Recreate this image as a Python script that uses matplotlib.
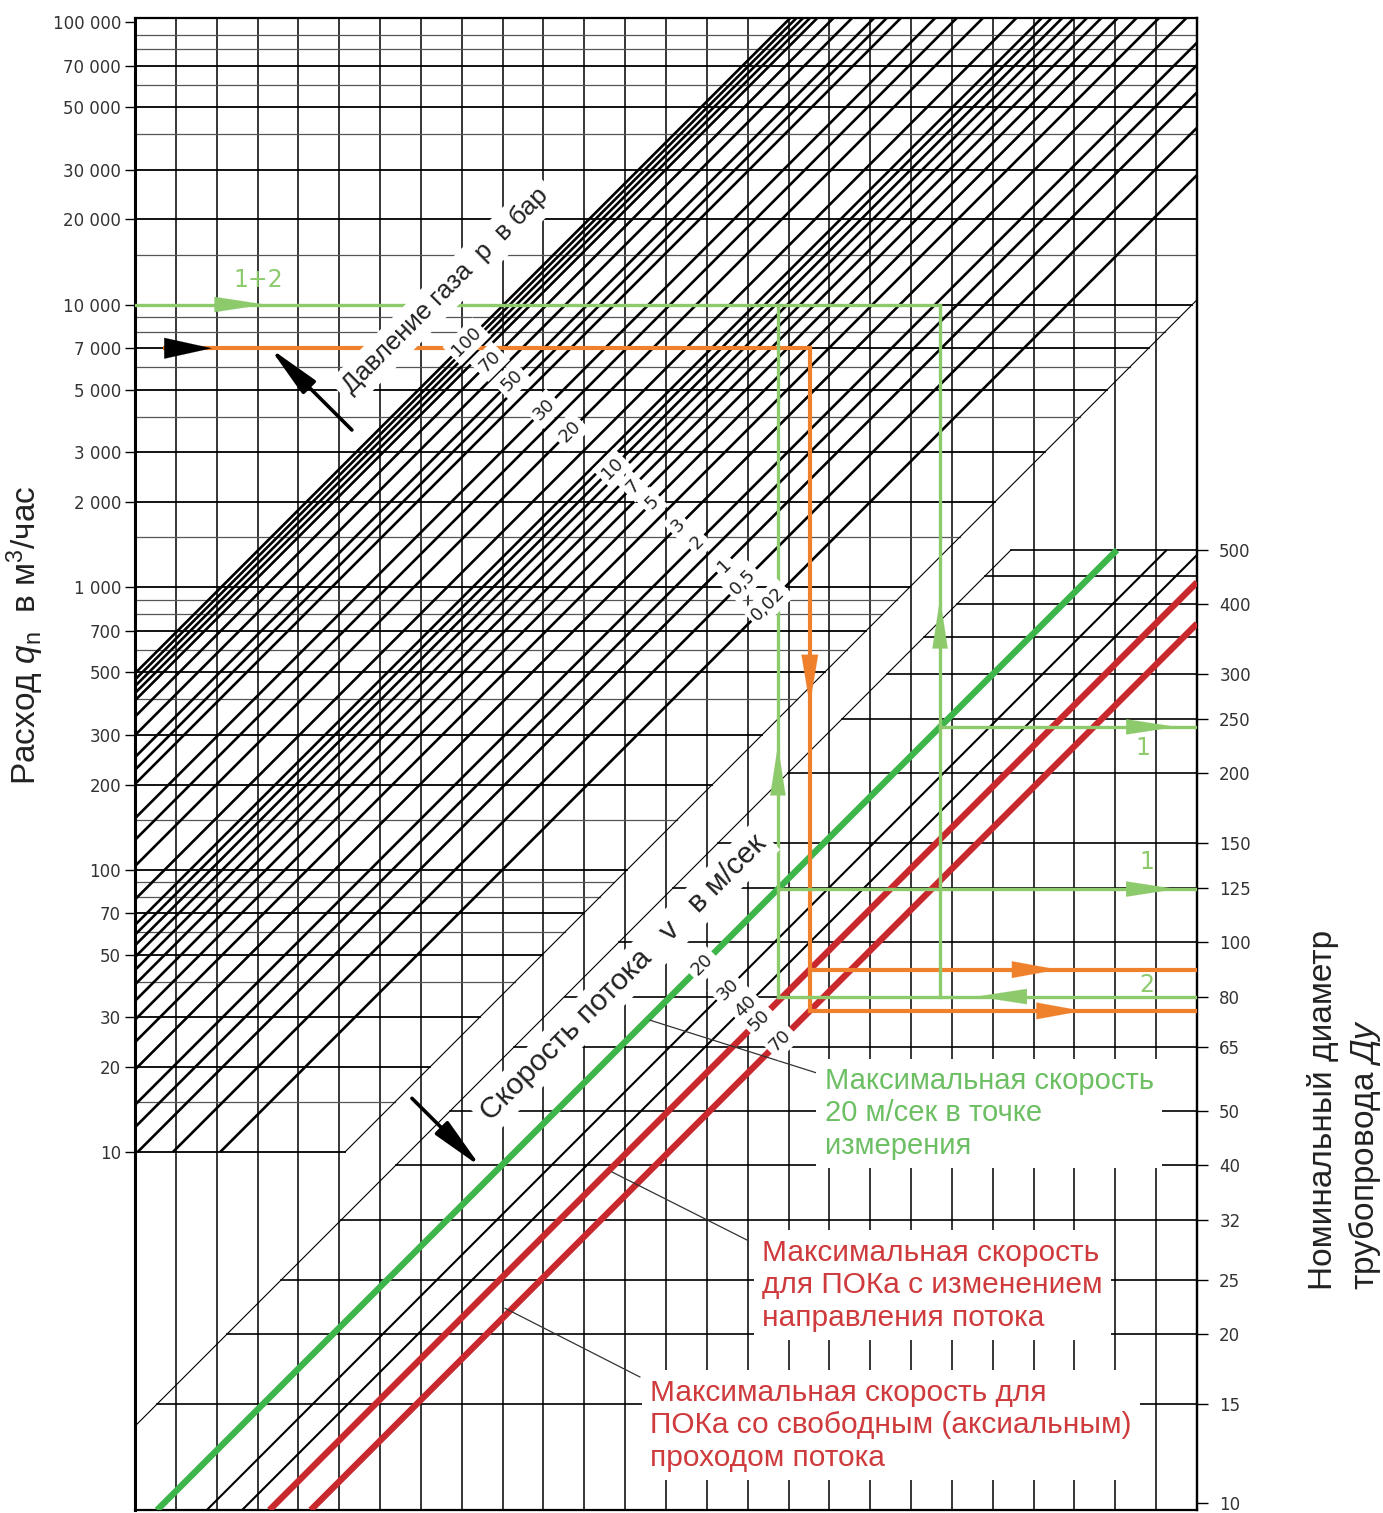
import numpy as np
import matplotlib.pyplot as plt
from matplotlib.ticker import NullLocator

plt.rcParams['font.family'] = ['Liberation Sans', 'DejaVu Sans']
plt.rcParams['mathtext.fontset'] = 'custom'
plt.rcParams['mathtext.rm'] = 'Liberation Sans'
plt.rcParams['mathtext.it'] = 'Liberation Sans:italic'

# chart geometry
n_cols = 26              # vertical grid columns
dec_per_col = 0.1446     # all diagonals rise this many decades of q per column
q_min, q_max = 0.541, 103300
dn_a, dn_b = -2.229, 1.986   # right scale: log q = a + b*log Dn

# left axis (flow qn)
q_ticks = [10, 20, 30, 50, 70, 100, 200, 300, 500, 700, 1000, 2000, 3000,
           5000, 7000, 10000, 20000, 30000, 50000, 70000, 100000]
q_tick_labels = ['10', '20', '30', '50', '70', '100', '200', '300', '500', '700',
                 '1 000', '2 000', '3 000', '5 000', '7 000', '10 000', '20 000',
                 '30 000', '50 000', '70 000', '100 000']
q_grid_minor = [15, 40, 60, 80, 90, 150, 400, 600, 800, 900, 1500, 4000, 6000,
                8000, 9000, 15000, 40000, 60000, 80000, 90000]

# right axis (nominal diameter)
dn_ticks = [10, 15, 20, 25, 32, 40, 50, 65, 80, 100, 125, 150, 200, 250, 300, 400, 500]
dn_grid_extra = [350, 450]

# gas pressure lines (bar)
p_bar = [100, 95, 90, 85, 80, 70, 60, 50, 45, 40, 30, 25, 20, 15, 12, 11, 10, 9, 8,
         7, 6, 5, 4, 3, 2, 1.5, 1, 0.5, 0.02]
p_labeled = [100, 70, 50, 30, 20, 10, 7, 5, 3, 2, 1, 0.5, 0.02]
p_label_text = ['100', '70', '50', '30', '20', '10', '7', '5', '3', '2', '1', '0,5', '0,02']
p_offset = 0.69                         # log q at column 0 for p+1 = 1
p_label_path = [(8.08, 3.874), (15.54, 2.936)]   # (col, log q) where labels sit

# flow velocity lines (m/s)
v_ms = [20, 30, 40, 50, 70]
v_offset = 0.956
v_colors = ['#3db54b', 'black', 'black', '#c9282d', '#c9282d']
v_widths = [4.6, 1.5, 1.5, 4.6, 4.6]
v_label_path = [(13.83, 1.673), (15.67, 1.414)]

# thin border diagonals (log q at column 0)
upper_edge_b = 0.257
lower_edge_b = 0.03

# worked examples
orange_qn, orange_start_col, orange_turn_col = 7000, 0.73, 16.52
green_qn, green_turn_cols, green_dn = 10000, [15.74, 19.71], 80

orange = '#f0812c'
lgreen = '#8dca6c'
tgreen = '#6cbf62'
tred = '#cf3a3c'


def q_on(b, col):
    return 10 ** (b + dec_per_col * np.asarray(col, dtype=float))


def col_at(b, q):
    return (np.log10(q) - b) / dec_per_col


def dn_to_q(d):
    d = np.clip(np.asarray(d, dtype=float), 1e-6, None)
    return 10 ** (dn_a + dn_b * np.log10(d))


def q_to_dn(q):
    q = np.clip(np.asarray(q, dtype=float), 1e-6, None)
    return 10 ** ((np.log10(q) - dn_a) / dn_b)


def on_path(path, b):
    (c0, l0), (c1, l1) = path
    t = (l0 - b - dec_per_col * c0) / (dec_per_col * (c1 - c0) - (l1 - l0))
    return c0 + t * (c1 - c0), 10 ** (l0 + t * (l1 - l0))


fig = plt.figure(figsize=(13.83, 15.13), dpi=100)
ax = fig.add_axes([135 / 1383, 3 / 1513, 1062 / 1383, 1492 / 1513])
ax.set_yscale('log')
ax.set_xlim(0, n_cols)
ax.set_ylim(q_min, q_max)

# vertical grid
ax.vlines(np.arange(n_cols + 1), q_min, q_max, color='black', lw=1.1, zorder=1)

# horizontal lines of the upper (flow) field
for q in q_ticks + q_grid_minor:
    if q >= 100000:
        continue
    c1 = min(n_cols, col_at(upper_edge_b, q))
    major = q in q_ticks
    ax.plot([0, c1], [q, q], color='black' if major else '#555555',
            lw=1.3 if major else 0.9, zorder=1)

# horizontal lines of the lower (diameter) field
for d in dn_ticks[1:] + dn_grid_extra:
    qd = dn_to_q(d)
    c0 = max(0, col_at(lower_edge_b, qd))
    ax.plot([c0, n_cols], [qd, qd], color='black', lw=1.2, zorder=1)

# thin border diagonals
c0 = col_at(upper_edge_b, 10)
ax.plot([c0, n_cols], q_on(upper_edge_b, [c0, n_cols]), color='black', lw=0.8, zorder=2)
c1 = col_at(lower_edge_b, dn_to_q(500))
ax.plot([0, c1], q_on(lower_edge_b, [0, c1]), color='black', lw=0.8, zorder=2)

# pressure lines
for p in p_bar:
    b = np.log10(p + 1) + p_offset
    c0 = max(0, col_at(b, 10))
    c1 = min(n_cols, col_at(b, q_max))
    ax.plot([c0, c1], q_on(b, [c0, c1]), color='black', lw=1.9, zorder=3,
            solid_capstyle='butt')

# velocity lines
q500 = dn_to_q(500)
v_b = {}
for v, colr, lw in zip(v_ms, v_colors, v_widths):
    b = v_offset - np.log10(v)
    v_b[v] = b
    c0 = max(0, col_at(b, q_min))
    c1 = min(n_cols, col_at(b, q500))
    ax.plot([c0, c1], q_on(b, [c0, c1]), color=colr, lw=lw, zorder=3,
            solid_capstyle='butt')

# example "2" (orange)
q_r1 = q_on(v_b[50], orange_turn_col)
q_r2 = q_on(v_b[70], orange_turn_col)
ax.plot([orange_start_col, orange_turn_col], [orange_qn, orange_qn], color=orange, lw=3, zorder=4)
ax.plot([orange_turn_col, orange_turn_col], [orange_qn, q_r2], color=orange, lw=3, zorder=4)
ax.plot([orange_turn_col, n_cols], [q_r1, q_r1], color=orange, lw=3, zorder=4)
ax.plot([orange_turn_col, n_cols], [q_r2, q_r2], color=orange, lw=3, zorder=4)

# examples "1" and "1+2" (light green)
q80 = dn_to_q(green_dn)
ax.plot([0, green_turn_cols[1]], [green_qn, green_qn], color=lgreen, lw=2.4, zorder=4)
for c in green_turn_cols:
    ax.plot([c, c], [green_qn, q80], color=lgreen, lw=2.4, zorder=4)
    qg = q_on(v_b[20], c)
    ax.plot([c, n_cols], [qg, qg], color=lgreen, lw=2.4, zorder=4)
ax.plot([green_turn_cols[0], n_cols], [q80, q80], color=lgreen, lw=2.4, zorder=4)

# arrow heads: (tail col, tail q, tip col, tip q, colour, length, half width)
arrows = [
    (0.73, orange_qn, 1.88, orange_qn, 'black', 3.4, 0.75),
    (orange_turn_col, 574, orange_turn_col, 382, orange, 3.6, 0.6),
    (21.5, q_r1, 22.6, q_r1, orange, 3.3, 0.6),
    (22.2, q_r2, 23.2, q_r2, orange, 3.3, 0.6),
    (1.96, green_qn, 3.18, green_qn, lgreen, 3.6, 0.55),
    (green_turn_cols[1], 727, green_turn_cols[1], 914, lgreen, 3.6, 0.55),
    (green_turn_cols[0], 214, green_turn_cols[0], 276, lgreen, 3.6, 0.55),
    (24.3, q_on(v_b[20], green_turn_cols[1]), 25.5, q_on(v_b[20], green_turn_cols[1]), lgreen, 3.6, 0.55),
    (24.3, q_on(v_b[20], green_turn_cols[0]), 25.5, q_on(v_b[20], green_turn_cols[0]), lgreen, 3.6, 0.55),
    (21.6, q80, 20.6, q80, lgreen, 3.6, 0.55),
]
for c0, y0, c1, y1, colr, hl, hw in arrows:
    ax.annotate('', xy=(c1, y1), xytext=(c0, y0), zorder=7,
                arrowprops=dict(arrowstyle=f'-|>,head_length={hl},head_width={hw}',
                                mutation_scale=10, color=colr, lw=0.1,
                                shrinkA=0, shrinkB=0))

# black pointer arrows
for tail, tip in [((5.31, 3597), (3.30, 7015)), ((6.78, 15.5), (8.47, 8.85))]:
    ax.annotate('', xy=tip, xytext=tail, zorder=7,
                arrowprops=dict(arrowstyle='-|>,head_length=3.2,head_width=0.55',
                                mutation_scale=10, color='black', lw=2.6,
                                shrinkA=0, shrinkB=0))

white = dict(facecolor='white', edgecolor='none', pad=3)

# pressure labels
for p, txt in zip(p_labeled, p_label_text):
    c, q = on_path(p_label_path, np.log10(p + 1) + p_offset)
    ax.text(c, q, txt, rotation=45, ha='center', va='center', fontsize=13,
            family='DejaVu Sans', color='#222222', bbox=white, zorder=6)

# velocity labels
for v in v_ms:
    c, q = on_path(v_label_path, v_b[v])
    ax.text(c, q, str(v), rotation=45, ha='center', va='center', fontsize=13,
            family='DejaVu Sans', color='#222222', bbox=white, zorder=6)

ax.text(7.61, 11170, 'Давление газа  p  в бар', rotation=45, ha='center', va='center',
        fontsize=18.5, color='#222222', bbox=dict(facecolor='white', edgecolor='none', pad=5),
        zorder=6, rotation_mode='anchor')
ax.text(11.97, 41.3, 'Скорость потока   v   в м/сек', rotation=45, ha='center',
        va='center', fontsize=21.5, color='#222222',
        bbox=dict(facecolor='white', edgecolor='none', pad=4), zorder=6,
        rotation_mode='anchor')

# example tags
for c, q, txt in [(3.01, 12200, '1+2'), (24.68, 269, '1'), (24.77, 106, '1'), (24.77, 39, '2')]:
    ax.text(c, q, txt, ha='center', va='center', fontsize=17, color=lgreen,
            family='DejaVu Sans', zorder=6)

# leader lines and notes
leaders = [((16.82, 18.8), (12.61, 29.3)),
           ((15.0, 4.87), (11.68, 8.5)),
           ((12.36, 1.6), (9.06, 2.8))]
for (c0, y0), (c1, y1) in leaders:
    ax.plot([c0, c1], [y0, y1], color='#333333', lw=0.9, zorder=5)

note_box = dict(facecolor='white', edgecolor='none', pad=6)
ax.text(16.89, 13.7, 'Максимальная скорость\n20 м/сек в точке\nизмерения', ha='left',
        va='center', fontsize=21, color=tgreen, linespacing=1.2, bbox=note_box, zorder=6)
ax.text(15.35, 3.38, 'Максимальная скорость\nдля ПОКа с изменением\nнаправления потока',
        ha='left', va='center', fontsize=21.5, color=tred, linespacing=1.2, bbox=note_box, zorder=6)
ax.text(12.61, 1.08, 'Максимальная скорость для\nПОКа со свободным (аксиальным)\nпроходом потока',
        ha='left', va='center', fontsize=21.5, color=tred, linespacing=1.2, bbox=note_box, zorder=6)

# axes
for s in ax.spines.values():
    s.set_linewidth(1.6)
ax.spines['left'].set_linewidth(2.2)
ax.set_xticks([])
ax.set_yticks(q_ticks, q_tick_labels, fontsize=12, family='DejaVu Sans', color='#333333')
ax.yaxis.set_minor_locator(NullLocator())
ax.tick_params(axis='y', length=7, width=1, pad=3)

ax2 = ax.secondary_yaxis('right', functions=(q_to_dn, dn_to_q))
ax2.set_yticks(dn_ticks, [str(d) for d in dn_ticks], fontsize=12, family='DejaVu Sans',
               color='#333333')
ax2.yaxis.set_minor_locator(NullLocator())
ax2.tick_params(axis='y', length=8, width=1, pad=8)
ax2.spines['right'].set_linewidth(1.6)

fig.text(25 / 1383, 1 - 635 / 1513, 'Расход $q_\\mathrm{n}$  в м$^3$/час', rotation=90,
         ha='center', va='center', fontsize=24, color='#222222')
fig.text(1345 / 1383, 1 - 1290 / 1513, 'Номинальный диаметр\nтрубопровода $\\mathit{Ду}$',
         rotation=90, ha='center', va='bottom', multialignment='left', linespacing=1.3,
         fontsize=24, color='#222222')

fig.savefig('out.png', dpi=100, facecolor='white')
